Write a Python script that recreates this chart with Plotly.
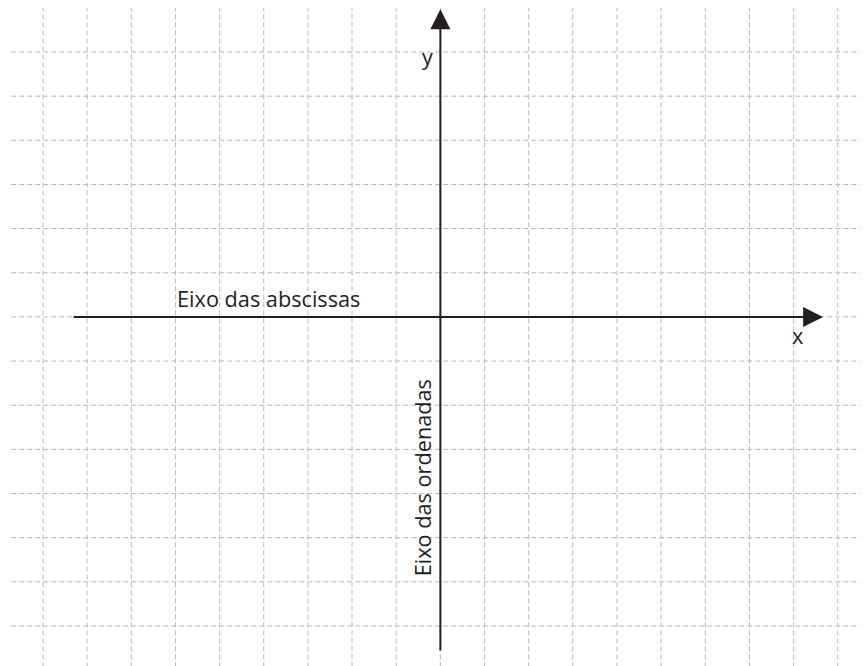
import plotly.graph_objects as go

# grid positions (one unit per square, origin where the two axes cross)
grid_x = [-9, -8, -7, -6, -5, -4, -3, -2, -1, 0, 1, 2, 3, 4, 5, 6, 7, 8, 9]
grid_y = [-7, -6, -5, -4, -3, -2, -1, 0, 1, 2, 3, 4, 5, 6]

# axis arrows: start and tip
x_axis_from = [-8.34, 0]
x_axis_to = [8.67, 0]
y_axis_from = [0, -7.59]
y_axis_to = [0, 6.97]

# labels
label_text = ["y", "x", "Eixo das abscissas", "Eixo das ordenadas"]
label_x = [-0.30, 8.10, -6.01, -0.41]
label_y = [5.89, -0.41, 0.41, -3.65]

INK = "#231f20"
GRID = "#b9b9b9"

fig = go.Figure()

shapes = []
for gx in grid_x:
    shapes.append(dict(type="line", xref="x", yref="y", x0=gx, x1=gx, y0=-8.3, y1=7.0,
                       line=dict(color=GRID, width=1, dash="5px,3px"), layer="below"))
for gy in grid_y:
    shapes.append(dict(type="line", xref="x", yref="y", x0=-9.72, x1=10.5, y0=gy, y1=gy,
                       line=dict(color=GRID, width=1, dash="5px,3px"), layer="below"))

annotations = []
for a, b in [(x_axis_from, x_axis_to), (y_axis_from, y_axis_to)]:
    annotations.append(dict(x=b[0], y=b[1], ax=a[0], ay=a[1], xref="x", yref="y",
                            axref="x", ayref="y", text="", showarrow=True,
                            arrowhead=2, arrowsize=2.0, arrowwidth=2, arrowcolor=INK))

anchors = [("center", 0), ("center", 0), ("left", 0), ("center", -90)]
for t, lx, ly, (xa, ang) in zip(label_text, label_x, label_y, anchors):
    annotations.append(dict(x=lx, y=ly, xref="x", yref="y", text=t, showarrow=False,
                            xanchor=xa, yanchor="middle", textangle=ang,
                            font=dict(family="Open Sans", size=21.7, color=INK)))

# the page body adds an 8px margin, so the ranges start 8px into the picture
fig.update_layout(
    width=868, height=666,
    margin=dict(l=0, r=0, t=0, b=0),
    paper_bgcolor="white", plot_bgcolor="white",
    shapes=shapes, annotations=annotations,
    showlegend=False,
    xaxis=dict(range=[-9.793, 9.867], visible=False, fixedrange=True),
    yaxis=dict(range=[-8.088, 6.997], visible=False, fixedrange=True),
)

fig.write_html("out.html", config={"displayModeBar": False})
